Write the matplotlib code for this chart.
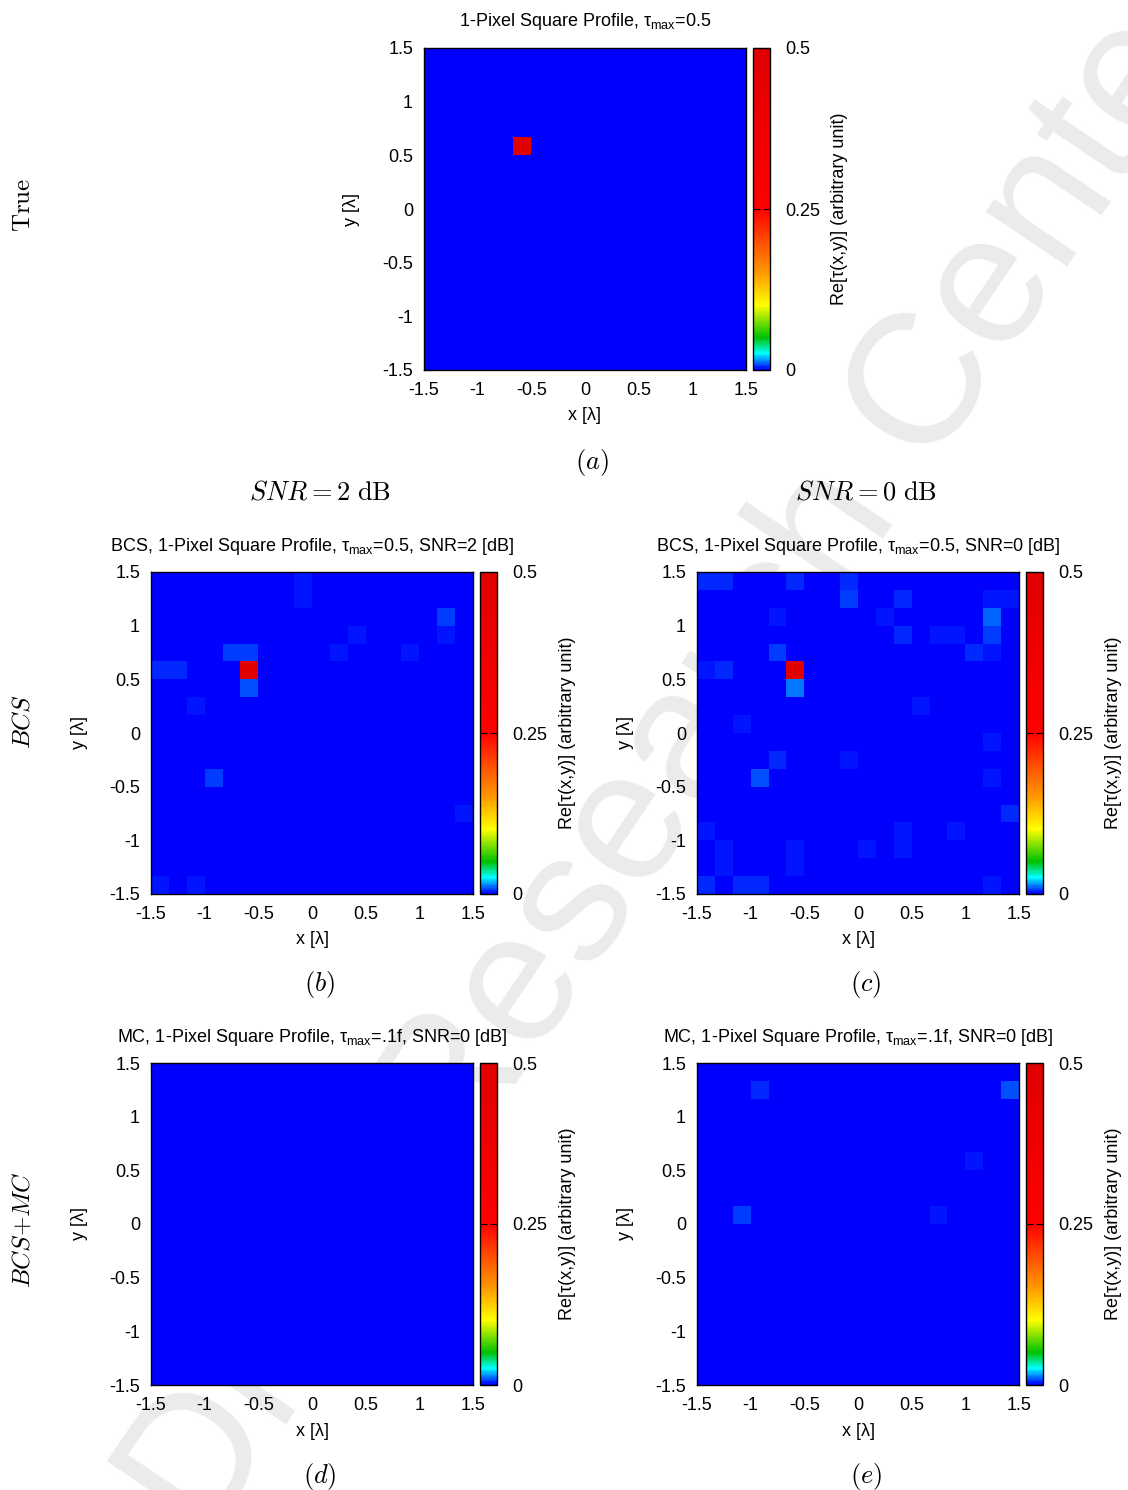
import numpy as np
import matplotlib
matplotlib.use("Agg")
import matplotlib.pyplot as plt
from matplotlib.colors import LinearSegmentedColormap

plt.rcParams['font.family'] = ['Liberation Sans', 'DejaVu Sans']
plt.rcParams['axes.unicode_minus'] = False
plt.rcParams['mathtext.fontset'] = 'custom'
plt.rcParams['mathtext.rm'] = 'Liberation Sans'
plt.rcParams['mathtext.it'] = 'Liberation Sans:italic'

# ---------------- data ----------------
grid_n = 18
axis_lim = [-1.5, 1.5]
x_ticks = [-1.5, -1, -0.5, 0, 0.5, 1, 1.5]
x_tick_labels = ["-1.5", "-1", "-0.5", "0", "0.5", "1", "1.5"]
cbar_ticks = [0, 0.25, 0.5]
cbar_tick_labels = ["0", "0.25", "0.5"]
vmax = 0.5

# cells given as (row counted from top, column from left, value)
true_rows = [5]
true_cols = [5]
true_vals = [0.5]

bcs2_rows = [0, 1, 2, 3, 3, 4, 4, 4, 4, 5, 5, 5, 6, 7, 11, 13, 17, 17]
bcs2_cols = [8, 8, 16, 16, 11, 4, 5, 10, 14, 0, 1, 5, 5, 2, 3, 17, 0, 2]
bcs2_vals = [0.003, 0.003, 0.007, 0.003, 0.003, 0.006, 0.006, 0.003, 0.003,
             0.004, 0.004, 0.5, 0.009, 0.003, 0.006, 0.0025, 0.003, 0.003]

bcs0_rows = [0, 0, 0, 0, 1, 1, 1, 1, 2, 2, 2, 3, 3, 3, 3, 4, 4, 4, 5, 5, 5, 6,
             7, 8, 9, 10, 10, 11, 11, 13, 14, 14, 14, 15, 15, 15, 15, 16, 16,
             17, 17, 17, 17]
bcs0_cols = [0, 1, 5, 8, 8, 11, 16, 17, 4, 10, 16, 11, 13, 14, 16, 4, 15, 16,
             0, 1, 5, 5, 12, 2, 16, 4, 8, 3, 16, 17, 0, 11, 14, 1, 5, 9, 11,
             1, 5, 0, 2, 3, 16]
bcs0_vals = [0.005, 0.004, 0.005, 0.005, 0.007, 0.005, 0.003, 0.003, 0.003,
             0.003, 0.011, 0.005, 0.003, 0.003, 0.007, 0.006, 0.005, 0.003,
             0.003, 0.005, 0.5, 0.012, 0.003, 0.003, 0.003, 0.005, 0.003,
             0.008, 0.003, 0.004, 0.003, 0.003, 0.003, 0.003, 0.003, 0.003,
             0.003, 0.003, 0.003, 0.005, 0.005, 0.004, 0.003]

mc2_rows = []
mc2_cols = []
mc2_vals = []

mc0_rows = [1, 1, 5, 8, 8]
mc0_cols = [3, 17, 15, 2, 13]
mc0_vals = [0.0045, 0.008, 0.003, 0.007, 0.0035]

title_a = r"1-Pixel Square Profile, $\mathrm{\tau}_{\mathrm{max}}$=0.5"
title_b = r"BCS, 1-Pixel Square Profile, $\mathrm{\tau}_{\mathrm{max}}$=0.5, SNR=2 [dB]"
title_c = r"BCS, 1-Pixel Square Profile, $\mathrm{\tau}_{\mathrm{max}}$=0.5, SNR=0 [dB]"
title_d = r"MC, 1-Pixel Square Profile, $\mathrm{\tau}_{\mathrm{max}}$=.1f, SNR=0 [dB]"
title_e = r"MC, 1-Pixel Square Profile, $\mathrm{\tau}_{\mathrm{max}}$=.1f, SNR=0 [dB]"

# ---------------- figure ----------------
W, H = 1128, 1490
fig = plt.figure(figsize=(W / 100, H / 100), dpi=100)
fig.patch.set_facecolor('white')

cmap = LinearSegmentedColormap.from_list(
    "gp", [(0.0, '#0000ff'), (0.05, '#00ffff'), (0.1, '#00c000'),
           (0.2, '#ffff00'), (0.3, '#ff9900'), (0.5, '#ff0000'),
           (1.0, '#e00000')])

edges = np.linspace(axis_lim[0], axis_lim[1], grid_n + 1)
S = 322  # plot size in px


def fx(x):
    return x / W


def fy(y):
    return 1 - y / H


def build(rows, cols, vals):
    Z = np.zeros((grid_n, grid_n))
    for r, c, v in zip(rows, cols, vals):
        Z[grid_n - 1 - r, c] = v
    return Z


def panel(left, top, Z, title):
    ax = fig.add_axes([fx(left), fy(top + S), S / W, S / H])
    m = ax.pcolormesh(edges, edges, Z, cmap=cmap, vmin=0, vmax=vmax,
                      shading='flat', edgecolors='none', rasterized=True)
    ax.set_xlim(axis_lim)
    ax.set_ylim(axis_lim)
    ax.set_xticks(x_ticks)
    ax.set_xticklabels(x_tick_labels)
    ax.set_yticks(x_ticks)
    ax.set_yticklabels(x_tick_labels)
    ax.tick_params(length=0, labelsize=13)
    ax.tick_params(axis='y', pad=7.9)
    ax.tick_params(axis='x', pad=8.3)
    for sp in ax.spines.values():
        sp.set_linewidth(1.0)
    cax = fig.add_axes([fx(left + S + 7), fy(top + S), 17 / W, S / H])
    cb = fig.colorbar(m, cax=cax, ticks=cbar_ticks)
    cb.ax.set_yticklabels(cbar_tick_labels)
    cb.outline.set_linewidth(1.0)
    cax.tick_params(direction='in', length=5, width=0.8, left=True, right=True,
                    labelsize=13, pad=10.8)
    fig.text(fx(left + S / 2), fy(top - 26), title, ha='center', va='center',
             fontsize=13)
    fig.text(fx(left + S / 2), fy(top + S + 46), "x [λ]", ha='center',
             va='center', fontsize=13)
    fig.text(fx(left - 72), fy(top + S / 2), "y [λ]", ha='center',
             va='center', rotation=90, fontsize=13)
    fig.text(fx(left + 416), fy(top + S / 2), "Re[τ(x,y)] (arbitrary unit)",
             ha='center', va='center', rotation=90, fontsize=13)
    return ax


panel(424, 48, build(true_rows, true_cols, true_vals), title_a)
panel(151, 572, build(bcs2_rows, bcs2_cols, bcs2_vals), title_b)
panel(697, 572, build(bcs0_rows, bcs0_cols, bcs0_vals), title_c)
panel(151, 1063, build(mc2_rows, mc2_cols, mc2_vals), title_d)
panel(697, 1063, build(mc0_rows, mc0_cols, mc0_vals), title_e)

serif = dict(math_fontfamily='cm', ha='center', va='center')
fig.text(fx(592), fy(462), r"$(a)$", fontsize=19, **serif)
fig.text(fx(320), fy(985), r"$(b)$", fontsize=19, **serif)
fig.text(fx(866), fy(985), r"$(c)$", fontsize=19, **serif)
fig.text(fx(320), fy(1477), r"$(d)$", fontsize=19, **serif)
fig.text(fx(866), fy(1477), r"$(e)$", fontsize=19, **serif)
fig.text(fx(320), fy(493), r"$SNR = 2\ \mathrm{dB}$", fontsize=19, **serif)
fig.text(fx(866), fy(493), r"$SNR = 0\ \mathrm{dB}$", fontsize=19, **serif)
fig.text(fx(23), fy(205), r"$\mathrm{True}$", fontsize=18, rotation=90, **serif)
fig.text(fx(23), fy(722), r"$BCS$", fontsize=18, rotation=90, **serif)
fig.text(fx(23), fy(1230), r"$BCS{+}MC$", fontsize=18, rotation=90, **serif)

# watermark
fig.text(fx(682), fy(752), "Draft Research Center", fontsize=133,
         color='#ebebeb', rotation=56, ha='center', va='center',
         rotation_mode='anchor', family='Liberation Sans', zorder=-10)

fig.savefig("out.png", dpi=100)
